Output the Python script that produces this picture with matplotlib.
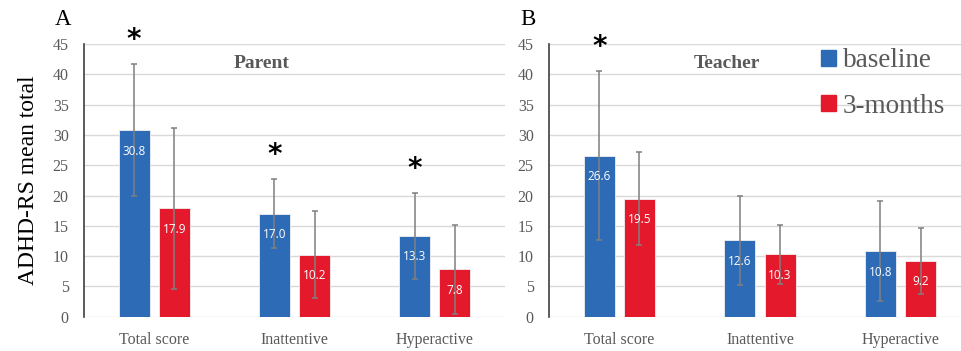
import numpy as np
import matplotlib.pyplot as plt

# data ------------------------------------------------------------------------
categories = ["Total score", "Inattentive", "Hyperactive"]
series = ["baseline", "3-months"]

parent_base = [30.8, 17.0, 13.3]
parent_3m = [17.9, 10.2, 7.8]
parent_base_sd = [10.9, 5.7, 7.1]
parent_3m_sd = [13.3, 7.2, 7.4]

teacher_base = [26.6, 12.6, 10.8]
teacher_3m = [19.5, 10.3, 9.2]
teacher_base_sd = [14.0, 7.4, 8.3]
teacher_3m_sd = [7.7, 4.9, 5.5]

parent_stars = [0, 1, 2]   # categories with a significant change
teacher_stars = [0]

yticks = list(range(0, 50, 5))

# style ------------------------------------------------------------------------
BLUE = "#2E6BB6"
RED = "#E5192C"
GREY = "#595959"
SERIF = "Liberation Serif"

fig = plt.figure(figsize=(9.61, 3.51), dpi=100)
ax_a = fig.add_axes([0.0874, 0.098, 0.438, 0.776])
ax_b = fig.add_axes([0.5713, 0.098, 0.439, 0.776])

x = np.arange(len(categories))
w, off = 0.22, 0.143


def draw_panel(ax, base, m3, base_sd, m3_sd, title, letter, stars):
    for vals, sd, col, dx in [(base, base_sd, BLUE, -off), (m3, m3_sd, RED, off)]:
        bars = ax.bar(x + dx, vals, width=w, color=col, edgecolor="#F0F0F0",
                      linewidth=0.6, zorder=2)
        ax.errorbar(x + dx, vals, yerr=sd, fmt="none", ecolor="#7F7F7F",
                    elinewidth=1.1, capsize=2.5, capthick=1.1, zorder=3)
        for b, v in zip(bars, vals):
            ax.annotate(f"{v:.1f}", (b.get_x() + b.get_width() / 2, v),
                        xytext=(0, -15), textcoords="offset points",
                        ha="center", va="center", color="white", fontsize=8.5,
                        family="Open Sans", zorder=4)
    for i in stars:
        top = base[i] + base_sd[i]
        ax.annotate("*", (x[i] - off, top), xytext=(0, 7), textcoords="offset points",
                    ha="center", va="bottom", fontsize=20, fontweight="bold",
                    color="black", family="DejaVu Sans", annotation_clip=False)
    ax.set_xlim(-0.5, 2.5)
    ax.set_ylim(0, 45)
    ax.set_yticks(yticks)
    ax.set_xticks(x)
    ax.set_xticklabels(categories, family=SERIF, fontsize=11.5, color=GREY)
    ax.set_yticklabels([str(t) for t in yticks], family=SERIF, fontsize=11.5, color=GREY)
    ax.tick_params(length=0, pad=11)
    ax.tick_params(axis="x", pad=11)
    ax.grid(axis="y", color="#D9D9D9", lw=1, zorder=0)
    ax.set_axisbelow(True)
    for s in ["top", "right", "bottom"]:
        ax.spines[s].set_visible(False)
    ax.spines["left"].set_color("#404040")
    ax.spines["left"].set_linewidth(1.2)
    ax.text(0.422, 0.928, title, transform=ax.transAxes, family=SERIF,
            fontweight="bold", fontsize=14, color=GREY, ha="center", va="center")
    ax.text(-0.05, 1.092, letter, transform=ax.transAxes, family=SERIF,
            fontsize=16.5, color="black", ha="center", va="center")


draw_panel(ax_a, parent_base, parent_3m, parent_base_sd, parent_3m_sd,
           "Parent", "A", parent_stars)
draw_panel(ax_b, teacher_base, teacher_3m, teacher_base_sd, teacher_3m_sd,
           "Teacher", "B", teacher_stars)

ax_a.set_ylabel("ADHD-RS mean total", family=SERIF, fontsize=17, color="black",
                labelpad=10)

handles = [plt.Rectangle((0, 0), 1, 1, color=c) for c in (BLUE, RED)]
ax_b.legend(handles, series, loc="upper left", bbox_to_anchor=(0.645, 0.985),
            frameon=False, prop={"family": SERIF, "size": 19.5},
            labelcolor=GREY, handlelength=0.55, handleheight=0.55,
            handletextpad=0.25, labelspacing=0.75, borderpad=0, borderaxespad=0)

fig.savefig("out.png", dpi=100)
